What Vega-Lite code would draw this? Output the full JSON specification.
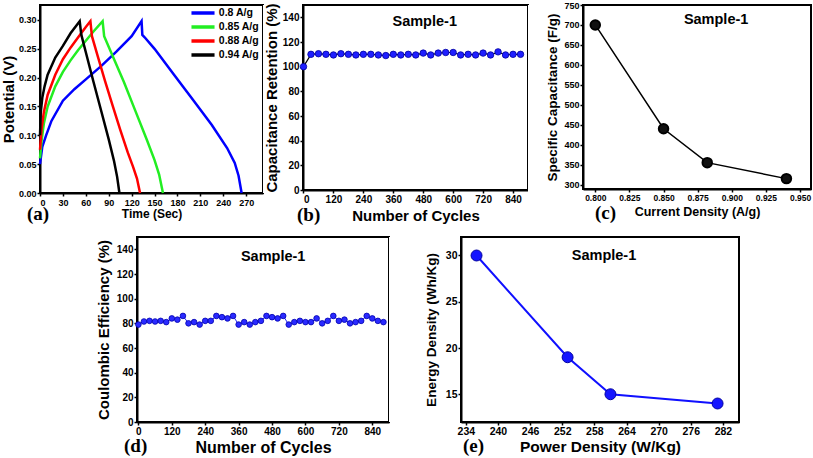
{
  "$schema": "https://vega.github.io/schema/vega-lite/v6.json",
  "padding": {"left": 0, "top": 0, "right": 0, "bottom": 0},
  "background": "white",
  "datasets": {
    "gcd": [
      {"t":0,"v":0.05,"s":"0.8 A/g"},{"t":3,"v":0.08,"s":"0.8 A/g"},{"t":8,"v":0.10,"s":"0.8 A/g"},{"t":15,"v":0.125,"s":"0.8 A/g"},{"t":30,"v":0.16,"s":"0.8 A/g"},{"t":45,"v":0.18,"s":"0.8 A/g"},{"t":60,"v":0.197,"s":"0.8 A/g"},{"t":80,"v":0.22,"s":"0.8 A/g"},{"t":100,"v":0.245,"s":"0.8 A/g"},{"t":120,"v":0.272,"s":"0.8 A/g"},{"t":133,"v":0.298,"s":"0.8 A/g"},{"t":134,"v":0.274,"s":"0.8 A/g"},{"t":137,"v":0.27,"s":"0.8 A/g"},{"t":150,"v":0.25,"s":"0.8 A/g"},{"t":175,"v":0.206,"s":"0.8 A/g"},{"t":200,"v":0.162,"s":"0.8 A/g"},{"t":225,"v":0.118,"s":"0.8 A/g"},{"t":245,"v":0.078,"s":"0.8 A/g"},{"t":255,"v":0.052,"s":"0.8 A/g"},{"t":260,"v":0.03,"s":"0.8 A/g"},{"t":264,"v":0,"s":"0.8 A/g"},
      {"t":0,"v":0.06,"s":"0.85 A/g"},{"t":2,"v":0.09,"s":"0.85 A/g"},{"t":5,"v":0.12,"s":"0.85 A/g"},{"t":10,"v":0.15,"s":"0.85 A/g"},{"t":20,"v":0.185,"s":"0.85 A/g"},{"t":30,"v":0.21,"s":"0.85 A/g"},{"t":40,"v":0.23,"s":"0.85 A/g"},{"t":50,"v":0.248,"s":"0.85 A/g"},{"t":60,"v":0.264,"s":"0.85 A/g"},{"t":70,"v":0.28,"s":"0.85 A/g"},{"t":82,"v":0.298,"s":"0.85 A/g"},{"t":84,"v":0.272,"s":"0.85 A/g"},{"t":95,"v":0.238,"s":"0.85 A/g"},{"t":110,"v":0.192,"s":"0.85 A/g"},{"t":125,"v":0.142,"s":"0.85 A/g"},{"t":140,"v":0.092,"s":"0.85 A/g"},{"t":150,"v":0.057,"s":"0.85 A/g"},{"t":156,"v":0.032,"s":"0.85 A/g"},{"t":161,"v":0,"s":"0.85 A/g"},
      {"t":0,"v":0.075,"s":"0.88 A/g"},{"t":2,"v":0.11,"s":"0.88 A/g"},{"t":5,"v":0.14,"s":"0.88 A/g"},{"t":10,"v":0.17,"s":"0.88 A/g"},{"t":20,"v":0.205,"s":"0.88 A/g"},{"t":30,"v":0.232,"s":"0.88 A/g"},{"t":40,"v":0.252,"s":"0.88 A/g"},{"t":50,"v":0.27,"s":"0.88 A/g"},{"t":60,"v":0.288,"s":"0.88 A/g"},{"t":66,"v":0.298,"s":"0.88 A/g"},{"t":68,"v":0.272,"s":"0.88 A/g"},{"t":75,"v":0.24,"s":"0.88 A/g"},{"t":85,"v":0.195,"s":"0.88 A/g"},{"t":95,"v":0.152,"s":"0.88 A/g"},{"t":105,"v":0.11,"s":"0.88 A/g"},{"t":115,"v":0.07,"s":"0.88 A/g"},{"t":122,"v":0.045,"s":"0.88 A/g"},{"t":127,"v":0.025,"s":"0.88 A/g"},{"t":131,"v":0,"s":"0.88 A/g"},
      {"t":0,"v":0.10,"s":"0.94 A/g"},{"t":1,"v":0.14,"s":"0.94 A/g"},{"t":3,"v":0.165,"s":"0.94 A/g"},{"t":6,"v":0.185,"s":"0.94 A/g"},{"t":10,"v":0.205,"s":"0.94 A/g"},{"t":20,"v":0.235,"s":"0.94 A/g"},{"t":30,"v":0.255,"s":"0.94 A/g"},{"t":40,"v":0.277,"s":"0.94 A/g"},{"t":52,"v":0.298,"s":"0.94 A/g"},{"t":54,"v":0.275,"s":"0.94 A/g"},{"t":60,"v":0.244,"s":"0.94 A/g"},{"t":70,"v":0.193,"s":"0.94 A/g"},{"t":80,"v":0.143,"s":"0.94 A/g"},{"t":90,"v":0.093,"s":"0.94 A/g"},{"t":97,"v":0.055,"s":"0.94 A/g"},{"t":101,"v":0.028,"s":"0.94 A/g"},{"t":104,"v":0,"s":"0.94 A/g"}
    ],
    "ret": [
      {"c":0,"r":100},{"c":30,"r":110},{"c":60,"r":110.5},{"c":90,"r":110},{"c":120,"r":109.5},{"c":150,"r":110.5},{"c":180,"r":110},{"c":210,"r":109.5},{"c":240,"r":110},{"c":270,"r":110},{"c":300,"r":109.5},{"c":330,"r":109},{"c":360,"r":110},{"c":390,"r":109.5},{"c":420,"r":110},{"c":450,"r":109.5},{"c":480,"r":111},{"c":510,"r":109.5},{"c":540,"r":111},{"c":570,"r":111.5},{"c":600,"r":111.5},{"c":630,"r":109.5},{"c":660,"r":110},{"c":690,"r":109.5},{"c":720,"r":111},{"c":750,"r":109.5},{"c":780,"r":112},{"c":810,"r":109.5},{"c":840,"r":110},{"c":870,"r":110}
    ],
    "sc": [
      {"cd":0.8,"sc":700},{"cd":0.85,"sc":440},{"cd":0.882,"sc":355},{"cd":0.94,"sc":315}
    ],
    "ce": [
      {"c":0,"e":79},{"c":20,"e":81.5},{"c":40,"e":82},{"c":60,"e":81.5},{"c":80,"e":82},{"c":100,"e":81},{"c":120,"e":84},{"c":140,"e":83},{"c":160,"e":86},{"c":180,"e":80},{"c":200,"e":81},{"c":220,"e":79},{"c":240,"e":82},{"c":260,"e":82},{"c":280,"e":86},{"c":300,"e":85},{"c":320,"e":84},{"c":340,"e":86},{"c":360,"e":79},{"c":380,"e":81},{"c":400,"e":79},{"c":420,"e":81},{"c":440,"e":82},{"c":460,"e":86},{"c":480,"e":85},{"c":500,"e":84},{"c":520,"e":86},{"c":540,"e":79},{"c":560,"e":81},{"c":580,"e":82},{"c":600,"e":81},{"c":620,"e":81},{"c":640,"e":84},{"c":660,"e":80},{"c":680,"e":82},{"c":700,"e":86},{"c":720,"e":82},{"c":740,"e":83},{"c":760,"e":80},{"c":780,"e":81},{"c":800,"e":82},{"c":820,"e":86},{"c":840,"e":84},{"c":860,"e":82},{"c":880,"e":81}
    ],
    "ed": [
      {"pd":236,"ed":30},{"pd":253,"ed":19},{"pd":261,"ed":15},{"pd":281,"ed":14}
    ],
    "lab": [{"label":"Sample-1"}]
  },
  "config": {
    "font": "Liberation Sans",
    "view": {"stroke": "black", "strokeWidth": 2},
    "axis": {"domainColor": "black", "domainWidth": 2, "tickColor": "black", "tickWidth": 1.5, "tickSize": 3, "labelPadding": 1, "labelFont": "Liberation Sans", "labelFontWeight": "bold", "labelFontSize": 10, "labelColor": "black", "titleFont": "Liberation Sans", "titleFontWeight": "bold", "titleFontSize": 15, "titleColor": "black", "grid": false, "labelOverlap": false},
    "title": {"font": "Liberation Serif", "fontSize": 19, "fontWeight": "bold", "color": "black", "orient": "bottom", "anchor": "start", "frame": "group"},
    "text": {"font": "Liberation Sans", "fontSize": 14.5, "fontWeight": "bold", "color": "black"}
  },
  "spacing": 10,
  "vconcat": [
    {
      "spacing": 0,
      "bounds": "flush",
      "hconcat": [
        {"width": 40, "height": 188, "data": {"values": []}, "mark": "point", "encoding": {}, "view": {"stroke": null, "fill": "white"}},
        {
          "width": 223, "height": 188,
          "data": {"name": "gcd"},
          "title": {"text": "(a)", "dx": -13, "dy": -18},
          "mark": {"type": "line", "strokeWidth": 2.5},
          "encoding": {
            "x": {"field": "t", "type": "quantitative", "scale": {"domain": [0, 292], "nice": false, "zero": false},
                  "axis": {"values": [0,30,60,90,120,150,180,210,240,270], "labelOverlap": false, "title": "Time (Sec)", "labelFontSize": 9, "labelPadding": 2.5, "titleFontSize": 12, "titlePadding": 0.5}},
            "y": {"field": "v", "type": "quantitative", "scale": {"domain": [0, 0.326], "nice": false},
                  "axis": {"values": [0,0.05,0.1,0.15,0.2,0.25,0.3], "labelOverlap": false, "format": ".2f", "title": "Potential (V)", "labelFontSize": 9, "titlePadding": 1.5}},
            "color": {"field": "s", "type": "nominal",
                      "scale": {"domain": ["0.8 A/g","0.85 A/g","0.88 A/g","0.94 A/g"], "range": ["#0000ff","#22ee22","#ff0000","#000000"]},
                      "legend": {"title": null, "orient": "none", "legendX": 196, "legendY": 1, "symbolType": "M-2.2,0H2.2", "symbolSize": 110, "symbolStrokeWidth": 3.5, "labelFont": "Liberation Sans", "labelFontSize": 10.5, "labelFontWeight": "bold", "labelColor": "black", "labelOffset": 8.8, "rowPadding": -3}}
          }
        },
        {"width": 40, "height": 188, "data": {"values": []}, "mark": "point", "encoding": {}, "view": {"stroke": null, "fill": "white"}},
        {
          "width": 225, "height": 185,
          "title": {"text": "(b)", "dx": -6, "dy": -21},
          "layer": [
            {"data": {"name": "ret"}, "mark": {"type": "line", "color": "black", "strokeWidth": 1.2},
             "encoding": {
               "x": {"field": "c", "type": "quantitative", "scale": {"domain": [-2, 900], "nice": false, "zero": false},
                     "axis": {"values": [0,120,240,360,480,600,720,840], "labelOverlap": false, "title": "Number of Cycles", "titlePadding": 4}},
               "y": {"field": "r", "type": "quantitative", "scale": {"domain": [0, 150], "nice": false},
                     "axis": {"values": [0,20,40,60,80,100,120,140], "labelOverlap": false, "title": "Capacitance Retention (%)", "titlePadding": 3}}
             }},
            {"data": {"name": "ret"}, "mark": {"type": "point", "filled": true, "size": 42, "color": "#1f1fff", "stroke": "#0000a0", "strokeWidth": 0.8, "opacity": 1},
             "encoding": {
               "x": {"field": "c", "type": "quantitative", "axis": {"values": [0,120,240,360,480,600,720,840], "labelOverlap": false, "title": "Number of Cycles", "titlePadding": 4}},
               "y": {"field": "r", "type": "quantitative", "axis": {"values": [0,20,40,60,80,100,120,140], "labelOverlap": false, "title": "Capacitance Retention (%)", "titlePadding": 3}}
             }},
            {"data": {"name": "lab"}, "mark": {"type": "text"},
             "encoding": {
               "x": {"datum": 486, "axis": {"values": [0,120,240,360,480,600,720,840], "labelOverlap": false, "title": "Number of Cycles", "titlePadding": 4}},
               "y": {"datum": 136, "axis": {"values": [0,20,40,60,80,100,120,140], "labelOverlap": false, "title": "Capacitance Retention (%)", "titlePadding": 3}},
               "text": {"field": "label"}
             }}
          ]
        },
        {"width": 55, "height": 188, "data": {"values": []}, "mark": "point", "encoding": {}, "view": {"stroke": null, "fill": "white"}},
        {
          "width": 228, "height": 184,
          "title": {"text": "(c)", "dx": 12, "dy": -18},
          "layer": [
            {"data": {"name": "sc"}, "mark": {"type": "line", "color": "black", "strokeWidth": 1.5},
             "encoding": {
               "x": {"field": "cd", "type": "quantitative", "scale": {"domain": [0.791, 0.958], "nice": false, "zero": false},
                     "axis": {"values": [0.8,0.825,0.85,0.875,0.9,0.925,0.95], "labelOverlap": false, "format": ".3f", "title": "Current Density (A/g)", "labelFontSize": 8.5, "titleFontSize": 12.5, "titlePadding": 4}},
               "y": {"field": "sc", "type": "quantitative", "scale": {"domain": [289, 750], "nice": false, "zero": false},
                     "axis": {"values": [300,350,400,450,500,550,600,650,700,750], "labelOverlap": false, "title": "Specific Capacitance (F/g)", "labelFontSize": 9, "titleFontSize": 13.5, "titlePadding": 4}}
             }},
            {"data": {"name": "sc"}, "mark": {"type": "point", "filled": true, "size": 90, "color": "#111111", "stroke": "#000000", "opacity": 1},
             "encoding": {
               "x": {"field": "cd", "type": "quantitative", "axis": {"values": [0.8,0.825,0.85,0.875,0.9,0.925,0.95], "labelOverlap": false, "format": ".3f", "title": "Current Density (A/g)", "labelFontSize": 8.5, "titleFontSize": 12.5, "titlePadding": 4}},
               "y": {"field": "sc", "type": "quantitative", "axis": {"values": [300,350,400,450,500,550,600,650,700,750], "labelOverlap": false, "title": "Specific Capacitance (F/g)", "labelFontSize": 9, "titleFontSize": 13.5, "titlePadding": 4}}
             }},
            {"data": {"name": "lab"}, "mark": {"type": "text"},
             "encoding": {
               "x": {"datum": 0.8885, "axis": {"values": [0.8,0.825,0.85,0.875,0.9,0.925,0.95], "labelOverlap": false, "format": ".3f", "title": "Current Density (A/g)", "labelFontSize": 8.5, "titleFontSize": 12.5, "titlePadding": 4}},
               "y": {"datum": 712, "axis": {"values": [300,350,400,450,500,550,600,650,700,750], "labelOverlap": false, "title": "Specific Capacitance (F/g)", "labelFontSize": 9, "titleFontSize": 13.5, "titlePadding": 4}},
               "text": {"field": "label"}
             }}
          ]
        }
      ]
    },
    {
      "spacing": 0,
      "bounds": "flush",
      "hconcat": [
        {"width": 137, "height": 185, "data": {"values": []}, "mark": "point", "encoding": {}, "view": {"stroke": null, "fill": "white"}},
        {
          "width": 252, "height": 185,
          "title": {"text": "(d)", "dx": -13, "dy": -22},
          "layer": [
            {"data": {"name": "ce"}, "mark": {"type": "line", "color": "#2020ff", "strokeWidth": 1},
             "encoding": {
               "x": {"field": "c", "type": "quantitative", "scale": {"domain": [-5, 900], "nice": false, "zero": false},
                     "axis": {"values": [0,120,240,360,480,600,720,840], "labelOverlap": false, "title": "Number of Cycles", "titleFontSize": 16, "titlePadding": 3}},
               "y": {"field": "e", "type": "quantitative", "scale": {"domain": [0, 150], "nice": false},
                     "axis": {"values": [0,20,40,60,80,100,120,140], "labelOverlap": false, "title": "Coulombic Efficiency (%)", "titlePadding": 5}}
             }},
            {"data": {"name": "ce"}, "mark": {"type": "point", "filled": true, "size": 32, "color": "#2a2aff", "stroke": "#0000b0", "strokeWidth": 0.8, "opacity": 1},
             "encoding": {
               "x": {"field": "c", "type": "quantitative", "axis": {"values": [0,120,240,360,480,600,720,840], "labelOverlap": false, "title": "Number of Cycles", "titleFontSize": 16, "titlePadding": 3}},
               "y": {"field": "e", "type": "quantitative", "axis": {"values": [0,20,40,60,80,100,120,140], "labelOverlap": false, "title": "Coulombic Efficiency (%)", "titlePadding": 5}}
             }},
            {"data": {"name": "lab"}, "mark": {"type": "text"},
             "encoding": {
               "x": {"datum": 484, "axis": {"values": [0,120,240,360,480,600,720,840], "labelOverlap": false, "title": "Number of Cycles", "titleFontSize": 16, "titlePadding": 3}},
               "y": {"datum": 134, "axis": {"values": [0,20,40,60,80,100,120,140], "labelOverlap": false, "title": "Coulombic Efficiency (%)", "titlePadding": 5}},
               "text": {"field": "label"}
             }}
          ]
        },
        {"width": 72, "height": 185, "data": {"values": []}, "mark": "point", "encoding": {}, "view": {"stroke": null, "fill": "white"}},
        {
          "width": 278, "height": 185,
          "title": {"text": "(e)", "dx": 2, "dy": -22},
          "layer": [
            {"data": {"name": "ed"}, "mark": {"type": "line", "color": "#1010ff", "strokeWidth": 2},
             "encoding": {
               "x": {"field": "pd", "type": "quantitative", "scale": {"domain": [233.1, 285], "nice": false, "zero": false},
                     "axis": {"values": [234,240,246,252,258,264,270,276,282], "labelOverlap": false, "title": "Power Density (W/Kg)", "labelFontSize": 10.5, "titleFontSize": 15.5, "titlePadding": 3}},
               "y": {"field": "ed", "type": "quantitative", "scale": {"domain": [12, 32], "nice": false, "zero": false},
                     "axis": {"values": [15,20,25,30], "labelOverlap": false, "title": "Energy Density (Wh/Kg)", "labelFontSize": 10.5, "titleFontSize": 13.5, "titlePadding": 7}}
             }},
            {"data": {"name": "ed"}, "mark": {"type": "point", "filled": true, "size": 120, "color": "#1515ff", "stroke": "#0000a0", "strokeWidth": 1, "opacity": 1},
             "encoding": {
               "x": {"field": "pd", "type": "quantitative", "axis": {"values": [234,240,246,252,258,264,270,276,282], "labelOverlap": false, "title": "Power Density (W/Kg)", "labelFontSize": 10.5, "titleFontSize": 15.5, "titlePadding": 3}},
               "y": {"field": "ed", "type": "quantitative", "axis": {"values": [15,20,25,30], "labelOverlap": false, "title": "Energy Density (Wh/Kg)", "labelFontSize": 10.5, "titleFontSize": 13.5, "titlePadding": 7}}
             }},
            {"data": {"name": "lab"}, "mark": {"type": "text"},
             "encoding": {
               "x": {"datum": 259.8, "axis": {"values": [234,240,246,252,258,264,270,276,282], "labelOverlap": false, "title": "Power Density (W/Kg)", "labelFontSize": 10.5, "titleFontSize": 15.5, "titlePadding": 3}},
               "y": {"datum": 30, "axis": {"values": [15,20,25,30], "labelOverlap": false, "title": "Energy Density (Wh/Kg)", "labelFontSize": 10.5, "titleFontSize": 13.5, "titlePadding": 7}},
               "text": {"field": "label"}
             }}
          ]
        }
      ]
    }
  ]
}
